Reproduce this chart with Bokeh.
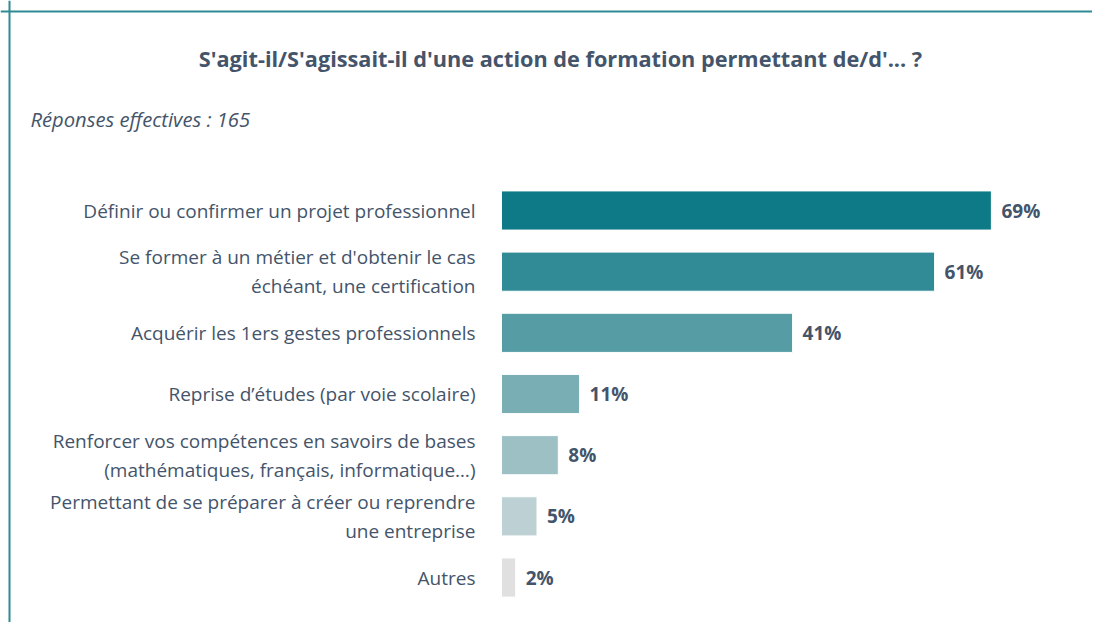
from bokeh.plotting import figure
from bokeh.models import Range1d, Label, Span, ColumnDataSource
from bokeh.core.properties import value
from bokeh.embed import file_html
from bokeh.resources import INLINE

title = "S'agit-il/S'agissait-il d'une action de formation permettant de/d'... ?"
subtitle = "Réponses effectives : 165"
categories = [
    "Définir ou confirmer un projet professionnel",
    "Se former à un métier et d'obtenir le cas\néchéant, une certification",
    "Acquérir les 1ers gestes professionnels",
    "Reprise d’études (par voie scolaire)",
    "Renforcer vos compétences en savoirs de bases\n(mathématiques, français, informatique…)",
    "Permettant de se préparer à créer ou reprendre\nune entreprise",
    "Autres",
]
values = [69, 61, 41, 11, 8, 5, 2]
colors = ["#0F7A87", "#318B97", "#559CA4", "#79AEB5", "#9DC0C5", "#BDD1D4", "#E0E0E0"]
value_labels = [f"{v}%" for v in values]

TEXT = "#44546A"
FONT = "Open Sans"

W, H = 1092, 622
px_per_pct = 7.1
bar_x0 = 501
x_start = -bar_x0 / px_per_pct
x_end = (W - bar_x0) / px_per_pct
row = 61.17
y0 = 210
y_top = -y0 / row
y_bot = (H - y0) / row

p = figure(width=W, height=H, output_backend="svg", toolbar_location=None,
           x_range=Range1d(x_start, x_end), y_range=Range1d(y_bot, y_top),
           min_border=0, outline_line_color=None)
p.axis.visible = False
p.grid.visible = False
p.background_fill_color = "white"
p.border_fill_color = "white"

idx = list(range(len(categories)))
src = ColumnDataSource(dict(y=idx, v=values, c=colors, cat=categories, lab=value_labels,
                            zero=[0] * len(values)))

p.hbar(y="y", left=0, right="v", height=0.64, fill_color="c", line_color="white",
       line_width=1, source=src)

p.text(x="zero", y="y", text="cat", source=src, x_offset=-26,
       text_align="right", text_baseline="middle", text_font=value(FONT),
       text_font_size="19px", text_color=TEXT, text_line_height=1.12)

p.text(x="v", y="y", text="lab", source=src, x_offset=10,
       text_align="left", text_baseline="middle", text_font=value(FONT),
       text_font_size="19px", text_font_style="bold", text_color=TEXT)

# frame lines (top and left)
frame_col = "#2E8A94"
p.add_layout(Span(location=y_top + 11 / row, dimension="width", line_color=frame_col, line_width=2))
p.add_layout(Span(location=x_start + 9 / px_per_pct, dimension="height", line_color=frame_col, line_width=2))

p.add_layout(Label(x=560, y=H - 58, x_units="screen", y_units="screen", text=title,
                   text_align="center", text_baseline="middle", text_font=FONT,
                   text_font_size="21.7px", text_font_style="bold", text_color=TEXT))
p.add_layout(Label(x=30, y=H - 118, x_units="screen", y_units="screen", text=subtitle,
                   text_align="left", text_baseline="middle", text_font=FONT,
                   text_font_size="20.2px", text_font_style="italic", text_color=TEXT))

open("out.html", "w").write(file_html(p, INLINE))
